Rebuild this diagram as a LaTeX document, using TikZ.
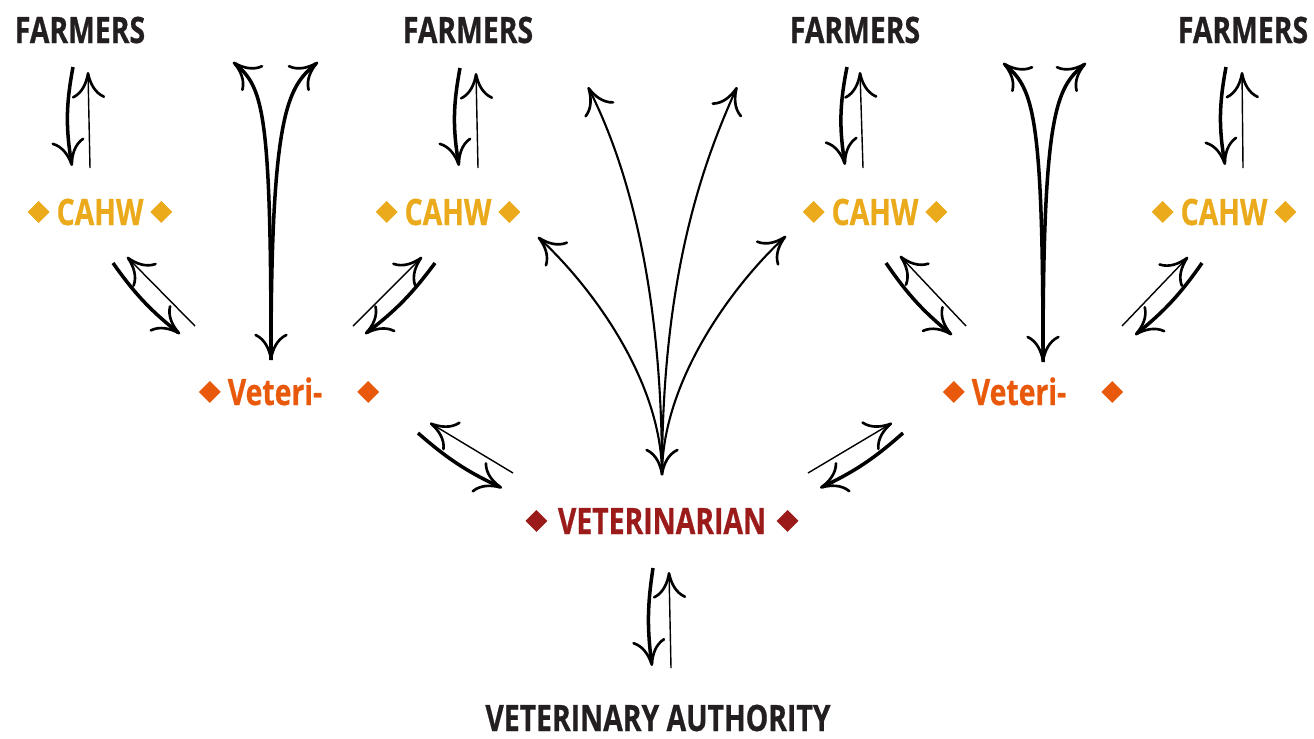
\documentclass[tikz,border=0pt]{standalone}
\usepackage{fontspec}
\usepackage{graphicx}
\newfontfamily\labelfont{Open Sans}[FakeStretch=0.78,FakeBold=0.6]
\usetikzlibrary{arrows.meta,calc}
\definecolor{farmcol}{HTML}{231F20}
\definecolor{cahwcol}{HTML}{EAAA1B}
\definecolor{vetcol}{HTML}{E9590C}
\definecolor{vetncol}{HTML}{9B1B1B}
\newcommand\dia{\raisebox{1.2pt}{\rotatebox{45}{\rule{8.8pt}{8.8pt}}}}
\tikzset{every node/.style={inner sep=0pt,anchor=base,
           font=\labelfont\bfseries\fontsize{20.7pt}{24pt}\selectfont},
         farmer/.style={text=farmcol},
         cahw/.style={text=cahwcol},
         vet/.style={text=vetcol},
         vetn/.style={text=vetncol},
         barb/.tip={Computer Modern Rightarrow[length=15pt,width=19pt,line width=1.5pt]},
         heavy/.style={draw,line width=2pt,-barb},
         light/.style={draw,line width=0.8pt,-barb},
         fan/.style={draw,line width=1.2pt,-barb},
         fork/.style={draw,line width=2pt,-barb}}

\begin{document}
\begin{tikzpicture}[x=0.02cm,y=-0.02cm]
\useasboundingbox (0,0) rectangle (1314,738);

% labels
\node[farmer] (farm1) at (80,43) {FARMERS};
\node[farmer] (farm2) at (468,43) {FARMERS};
\node[farmer] (farm3) at (855,43) {FARMERS};
\node[farmer] (farm4) at (1243,43) {FARMERS};
\node[cahw] (cahw1) at (100,225) {\dia\hspace{4pt}CAHW\hspace{4pt}\dia};
\node[cahw] (cahw2) at (448,225) {\dia\hspace{4pt}CAHW\hspace{4pt}\dia};
\node[cahw] (cahw3) at (875,225) {\dia\hspace{4pt}CAHW\hspace{4pt}\dia};
\node[cahw] (cahw4) at (1224,225) {\dia\hspace{4pt}CAHW\hspace{4pt}\dia};
\node[vet] (vet1) at (289,405) {\dia\hspace{4pt}Veteri-\hspace{20pt}\dia};
\node[vet] (vet2) at (1033,405) {\dia\hspace{4pt}Veteri-\hspace{20pt}\dia};
\node[vetn] (vetn) at (662,534) {\dia\hspace{6pt}VETERINARIAN\hspace{6pt}\dia};
\node[farmer] (auth) at (658,731) {VETERINARY AUTHORITY};

% farmers <-> cahw
\draw[heavy] ($(farm1.base)+(-7,24)$) to[bend right=10] ($(cahw1.base)+(-28,-59)$);
\draw[light] ($(cahw1.base)+(-10,-57)$) -- ($(farm1.base)+(8,29)$);
\draw[heavy] ($(farm2.base)+(-8,25)$) to[bend right=10] ($(cahw2.base)+(11,-59)$);
\draw[light] ($(cahw2.base)+(30,-57)$) -- ($(farm2.base)+(8,30)$);
\draw[heavy] ($(farm3.base)+(-8,24)$) to[bend right=10] ($(cahw3.base)+(-30,-60)$);
\draw[light] ($(cahw3.base)+(-12,-57)$) -- ($(farm3.base)+(5,29)$);
\draw[heavy] ($(farm4.base)+(-17,24)$) to[bend right=10] ($(cahw4.base)+(1,-60)$);
\draw[light] ($(cahw4.base)+(19,-57)$) -- ($(farm4.base)+(-1,29)$);

% cahw <-> veteri-
\draw[heavy] ($(cahw1.base)+(13,38)$) to[bend right=8] ($(vet1.base)+(-109,-71)$);
\draw[light] ($(vet1.base)+(-94,-79)$) -- ($(cahw1.base)+(27,32)$);
\draw[heavy] ($(cahw2.base)+(-13,38)$) to[bend left=8] ($(vet1.base)+(76,-71)$);
\draw[light] ($(vet1.base)+(64,-79)$) -- ($(cahw2.base)+(-26,32)$);
\draw[heavy] ($(cahw3.base)+(11,38)$) to[bend right=8] ($(vet2.base)+(-81,-70)$);
\draw[light] ($(vet2.base)+(-67,-79)$) -- ($(cahw3.base)+(25,31)$);
\draw[heavy] ($(cahw4.base)+(-22,38)$) to[bend left=8] ($(vet2.base)+(102,-70)$);
\draw[light] ($(vet2.base)+(89,-79)$) -- ($(cahw4.base)+(-36,32)$);

% veteri- <-> veterinarian <-> authority
\draw[heavy] ($(vet1.base)+(129,28)$) to[bend right=8] ($(vetn.base)+(-160,-46)$);
\draw[light] ($(vetn.base)+(-149,-61)$) -- ($(vet1.base)+(141,18)$);
\draw[heavy] ($(vet2.base)+(-130,28)$) to[bend left=8] ($(vetn.base)+(158,-46)$);
\draw[light] ($(vetn.base)+(146,-61)$) -- ($(vet2.base)+(-141,18)$);
\draw[heavy] ($(vetn.base)+(-9,34)$) to[bend right=8] ($(auth.base)+(-6,-65)$);
\draw[light] ($(auth.base)+(13,-63)$) -- ($(vetn.base)+(7,38)$);

% forks to the farmers
\draw[fork,barb-barb] ($(vet1.base)+(-18,-45)$) .. controls +(0,-250) and +(30,25) .. ($(farm1.base)+(153,19)$);
\draw[fork] ($(vet1.base)+(-18,-45)$) .. controls +(0,-250) and +(-30,25) .. ($(farm2.base)+(-150,19)$);
\draw[fork,barb-barb] ($(vet2.base)+(10,-43)$) .. controls +(0,-250) and +(30,25) .. ($(farm3.base)+(148,20)$);
\draw[fork] ($(vet2.base)+(10,-43)$) .. controls +(0,-250) and +(-30,25) .. ($(farm4.base)+(-157,20)$);
\draw[fan,barb-barb] ($(vetn.base)+(0,-59)$) .. controls +(0,-195) and +(37,73) .. ($(farm2.base)+(120,44)$);
\draw[fan] ($(vetn.base)+(0,-59)$) .. controls +(0,-205) and +(-32,72) .. ($(farm3.base)+(-118,44)$);
\draw[fan] ($(vetn.base)+(0,-59)$) .. controls +(0,-95) and +(52,48) .. ($(cahw2.base)+(90,12)$);
\draw[fan] ($(vetn.base)+(0,-59)$) .. controls +(0,-95) and +(-52,48) .. ($(cahw3.base)+(-89,11)$);
\end{tikzpicture}
\end{document}
